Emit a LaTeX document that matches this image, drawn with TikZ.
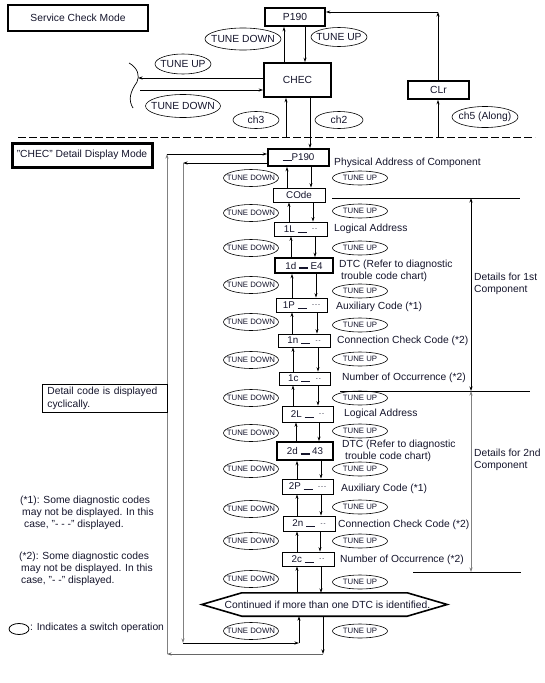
\documentclass[tikz,border=0pt]{standalone}
\usepackage{fontspec}
\setmainfont{Liberation Sans}
\usetikzlibrary{arrows.meta, shapes.geometric}

\definecolor{ink}{HTML}{14142B}
\newcommand{\zw}[1]{\makebox[0pt]{#1}}
\newcommand{\codeline}{\rule{9pt}{0.7pt}}
\newcommand{\codebar}{\rule{9pt}{1.6pt}}
\newcommand{\codedash}[1]{\raisebox{1.5pt}{\fontsize{6}{6}\selectfont #1}}

\begin{document}
\begin{tikzpicture}[
    x=1pt, y=-1pt,
    >={Stealth[length=4.5pt, width=3pt]},
    every node/.style={text=ink},
    modebox/.style={draw, line width=2.6pt, inner sep=0pt, font=\fontsize{10.3}{12}\selectfont},
    stagebox/.style={draw, line width=1.6pt, inner sep=0pt, font=\fontsize{10.3}{12}\selectfont},
    dispbox/.style={draw, line width=0.8pt, inner sep=0pt, font=\fontsize{9.8}{11}\selectfont},
    keybox/.style={dispbox, line width=1.6pt},
    switch/.style={ellipse, draw, line width=0.6pt, inner sep=0pt, font=\fontsize{7.8}{9}\selectfont},
    bigswitch/.style={switch, font=\fontsize{10.3}{12}\selectfont},
    note/.style={anchor=west, inner sep=0pt, align=left, font=\fontsize{10.3}{12}\selectfont},
    link/.style={->, line width=0.7pt},
  ]
  \useasboundingbox (0, 0) rectangle (545, 683);

  % service check mode
  \node[modebox, minimum width=140pt, minimum height=26pt] (svc) at (78, 18) {Service Check Mode};
  \node[stagebox, minimum width=60pt, minimum height=18pt] (ptop) at (295, 17) {P190};
  \node[stagebox, minimum width=67pt, minimum height=34pt] (chec) at (297.5, 80) {CHEC};
  \node[stagebox, minimum width=61pt, minimum height=18pt] (clr) at (438.5, 90) {CLr};

  \node[bigswitch, minimum width=76pt, minimum height=22pt] (tdtop) at (243, 39) {\zw{TUNE DOWN}};
  \node[bigswitch, minimum width=56pt, minimum height=19pt] (tutop) at (339, 37) {\zw{TUNE UP}};
  \node[bigswitch, minimum width=56pt, minimum height=20pt] (tuleft) at (183, 64) {\zw{TUNE UP}};
  \node[bigswitch, minimum width=75pt, minimum height=23pt] (tdleft) at (183, 106) {\zw{TUNE DOWN}};
  \node[bigswitch, minimum width=46pt, minimum height=17pt] (ch3) at (256, 120) {\zw{ch3}};
  \node[bigswitch, minimum width=48pt, minimum height=17pt] (ch2) at (339, 120) {\zw{ch2}};
  \node[bigswitch, minimum width=66pt, minimum height=21pt] (ch5) at (485, 117) {\zw{ch5 (Along)}};

  \coordinate (pu) at (284, 0);
  \coordinate (pd) at (305, 0);
  \draw[link] (pu |- chec.north) -- (pu |- ptop.south);
  \draw[link] (pd |- ptop.south) -- (pd |- chec.north);

  \coordinate (bu) at (138, 78);
  \coordinate (bd) at (140, 90);
  \draw[link] (chec.west |- bu) -- (bu);
  \draw[link] (bd) -- (chec.west |- bd);
  \draw[line width=0.7pt] (129, 63) .. controls (138, 68) and (140, 76) .. (137, 82)
    .. controls (130, 92) and (128, 100) .. (133, 108);

  \coordinate (cr) at (438, 12);
  \coordinate (c5) at (438, 137);
  \draw[link] (c5) -- (c5 |- clr.south);
  \draw[link] (cr |- clr.north) -- (cr);
  \draw[link] (cr) -- (cr -| ptop.east);

  \draw[dash pattern=on 8pt off 3pt, line width=0.8pt] (18, 137) -- (535, 137);

  % detail display mode
  \node[modebox, line width=3pt, minimum width=140pt, minimum height=24pt] (chdm) at (82, 155) {"CHEC" Detail Display Mode};

  \node[keybox, minimum width=61pt, minimum height=17pt] (pdet) at (298.5, 157.5) {\codeline P190};
  \node[dispbox, minimum width=52pt, minimum height=14pt] (code) at (299, 195) {COde};
  \node[dispbox, minimum width=53pt, minimum height=14pt] (l1) at (300.5, 229) {1L\ \codeline\ \ \codedash{-\,-}};
  \node[keybox, minimum width=58pt, minimum height=15pt] (d1) at (304, 265.5) {1d\ \codebar\ E4};
  \node[dispbox, minimum width=51pt, minimum height=14pt] (p1) at (301.5, 305) {1P\ \codeline\ \ \codedash{-\,-\,-}};
  \node[dispbox, minimum width=52pt, minimum height=13pt] (n1) at (304, 340.5) {1n\ \codeline\ \ \codedash{-\,-}};
  \node[dispbox, minimum width=51pt, minimum height=13pt] (c1) at (304.5, 378.5) {1c\ \codeline\ \ \codedash{-\,-}};
  \node[dispbox, minimum width=51pt, minimum height=16pt] (l2) at (307.5, 414) {2L\ \codeline\ \ \codedash{-\,-}};
  \node[keybox, minimum width=56pt, minimum height=18pt] (d2) at (305, 451) {2d\ \codebar\ 43};
  \node[dispbox, minimum width=51pt, minimum height=15pt] (p2) at (307.5, 486.5) {2P\ \codeline\ \ \codedash{-\,-\,-}};
  \node[dispbox, minimum width=52pt, minimum height=15pt] (n2) at (309, 523.5) {2n\ \codeline\ \ \codedash{-\,-}};
  \node[dispbox, minimum width=52pt, minimum height=14pt] (c2) at (308, 559) {2c\ \codeline\ \ \codedash{-\,-}};
  \node[
    inner sep=0pt,
    minimum width=165pt,
    minimum height=23pt,
    font=\fontsize{10.3}{12}\selectfont
  ] (cont) at (324.5, 604.5) {\zw{\hspace{6pt}Continued if more than one DTC is identified.}};
  \draw[line width=1.6pt] (cont.north west) -- (cont.north east) -- ([xshift=40pt]cont.east)
    -- (cont.south east) -- (cont.south west) -- ([xshift=-40pt]cont.west) -- cycle;

  \coordinate (c3) at (286, 137);
  \coordinate (c2x) at (310, 0);
  \draw[link] (c3) -- (c3 |- chec.south);
  \draw[link] (c2x |- chec.south) -- (c2x |- pdet.north);

  \node[note] (t0) at (334, 163) {Physical Address of Component};
  \node[note] (t1) at (334, 229) {Logical Address};
  \node[note] (t2) at (339, 271) {DTC (Refer to diagnostic\\\hspace*{2pt}trouble code chart)};
  \node[note] (t3) at (336, 307) {Auxiliary Code (*1)};
  \node[note] (t4) at (337, 341) {Connection Check Code (*2)};
  \node[note] (t5) at (342, 378) {Number of Occurrence (*2)};
  \node[note] (t6) at (344, 414) {Logical Address};
  \node[note] (t7) at (342, 450.5) {DTC (Refer to diagnostic\\\hspace*{3pt}trouble code chart)};
  \node[note] (t8) at (341, 489) {Auxiliary Code (*1)};
  \node[note] (t9) at (338, 525) {Connection Check Code (*2)};
  \node[note] (t10) at (340, 560) {Number of Occurrence (*2)};

  % switch operations
  \foreach \y [count=\i] in {178, 213, 248, 285, 322, 360, 398, 433, 469, 509, 541, 579, 631}
    \node[switch, minimum width=55pt, minimum height=17pt] (td\i) at (251, \y) {\zw{TUNE DOWN}};
  \foreach \y [count=\i] in {178, 211, 248, 291, 325, 359, 398, 431, 469, 507, 541, 582, 631}
    \node[switch, minimum width=55pt, minimum height=14pt] (tu\i) at (360, \y) {\zw{TUNE UP}};

  \foreach \a/\b/\ux/\dx in {pdet/code/287/311, code/l1/289/313, l1/d1/291/315,
      d1/p1/292/316, p1/n1/292/317, n1/c1/293/318, c1/l2/293/318, l2/d2/296/319,
      d2/p2/297/321, p2/n2/297/321, n2/c2/297/320, c2/cont/297/321}{
    \coordinate (u) at (\ux, 0);
    \coordinate (d) at (\dx, 0);
    \draw[link] (u |- \b.north) -- (u |- \a.south);
    \draw[link] (d |- \a.south) -- (d |- \b.north);
  }

  % cycle back
  \coordinate (ob) at (167, 654);
  \coordinate (ot) at (167, 154);
  \coordinate (ib) at (183, 643);
  \coordinate (it) at (183, 163);
  \coordinate (od) at (323, 0);
  \coordinate (iu) at (299, 0);
  \draw[link] (od |- cont.south) -- (od |- ob);
  \draw[link, black!60] (od |- ob) -- (ob);
  \draw[link, black!50] (ob) -- (ot);
  \draw[link] (ot) -- (ot -| pdet.west);
  \draw[link] (it -| pdet.west) -- (it);
  \draw[link, black!50] (it) -- (ib);
  \draw[link] (ib) -- (iu |- ib);
  \draw[link] (iu |- ib) -- (iu |- cont.south);

  % component brackets
  \coordinate (b1l) at (332, 198);
  \coordinate (b1r) at (520, 198);
  \coordinate (b2l) at (340, 391);
  \coordinate (b2r) at (530, 391);
  \coordinate (b3l) at (413, 572);
  \coordinate (b3r) at (521, 572);
  \coordinate (bx) at (471, 0);
  \draw[line width=0.8pt] (b1l) -- (b1r);
  \draw[line width=0.8pt] (b2l) -- (b2r);
  \draw[line width=0.8pt] (b3l) -- (b3r);
  \draw[<->, line width=0.7pt] (bx |- b1l) -- (bx |- b2l);
  \draw[<->, line width=0.7pt, black!50] (bx |- b2l) -- (bx |- b3l);
  \node[note] (det1) at (474, 283.5) {Details for 1st\\Component};
  \node[note] (det2) at (474, 459.5) {Details for 2nd\\Component};

  % notes
  \node[
    draw,
    line width=0.8pt,
    anchor=north west,
    inner xsep=5pt,
    inner ysep=0pt,
    text width=115pt,
    minimum height=28pt,
    align=left,
    font=\fontsize{10.3}{12.5}\selectfont
  ] (cyc) at (42, 384) {Detail code is displayed\\cyclically.};
  \node[note] (fn1) at (20, 513) {(*1): Some diagnostic codes\\\hspace*{2pt}may not be displayed. In this\\\hspace*{4pt}case, "- - -" displayed.};
  \node[note] (fn2) at (19, 569) {(*2): Some diagnostic codes\\\hspace*{2pt}may not be displayed. In this\\\hspace*{2pt}case, "- -" displayed.};
  \node[switch, line width=0.8pt, minimum width=20pt, minimum height=11pt] (legend) at (19, 629) {};
  \node[note] (legtext) at (30, 628) {: Indicates a switch operation};

\end{tikzpicture}
\end{document}
